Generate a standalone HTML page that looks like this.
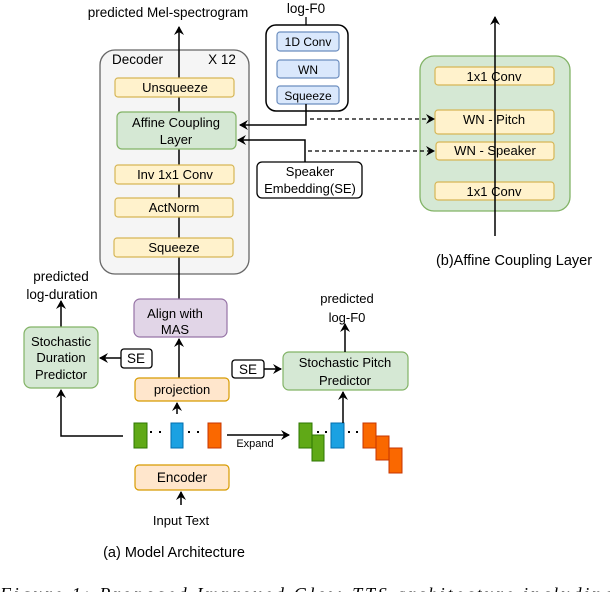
<!DOCTYPE html>
<html><head><meta charset="utf-8"><style>
html,body{margin:0;padding:0;background:#fff;width:610px;height:592px;overflow:hidden}
svg text{font-family:"Liberation Sans",sans-serif;fill:#000}
</style></head><body>
<svg width="610" height="592" viewBox="0 0 610 592" xmlns="http://www.w3.org/2000/svg">
<defs>
<marker id="a" markerWidth="10" markerHeight="10" refX="8" refY="5" orient="auto" markerUnits="userSpaceOnUse">
<path d="M0,0 L9,5 L0,10 L3,5 Z" fill="#000"/></marker>
</defs>
<g font-size="13" text-anchor="middle">
<rect x="100" y="50" width="149" height="224" rx="15" fill="#f5f5f5" stroke="#666" stroke-width="1.3"/>
<text x="112" y="64" text-anchor="start" font-size="13.5">Decoder</text>
<text x="222" y="64" font-size="13.5">X 12</text>
<line x1="179" y1="299" x2="179" y2="27" stroke="#000" stroke-width="1.5" marker-end="url(#a)"/>
<text x="168" y="17" font-size="13.5">predicted Mel-spectrogram</text>
<g fill="#fff2cc" stroke="#d6b656" stroke-width="1.2">
<rect x="115" y="78" width="119" height="19" rx="3"/>
<rect x="115" y="165" width="119" height="19" rx="3"/>
<rect x="115" y="198" width="118" height="19" rx="3"/>
<rect x="114" y="238" width="119" height="19" rx="3"/>
</g>
<rect x="117" y="112" width="119" height="37" rx="5" fill="#d5e8d4" stroke="#82b366" stroke-width="1.2"/>
<text x="175" y="92">Unsqueeze</text>
<text x="176" y="127">Affine Coupling</text>
<text x="176" y="144">Layer</text>
<text x="175" y="179">Inv 1x1 Conv</text>
<text x="174" y="212">ActNorm</text>
<text x="174" y="252">Squeeze</text>
<text x="306" y="13" font-size="13.5">log-F0</text>
<line x1="306" y1="17" x2="306" y2="25" stroke="#000" stroke-width="1.3"/>
<rect x="266" y="25" width="82" height="86" rx="10" fill="#fff" stroke="#000" stroke-width="1.5"/>
<g fill="#dae8fc" stroke="#6c8ebf" stroke-width="1.2">
<rect x="277" y="32" width="62" height="19" rx="3"/>
<rect x="277" y="60" width="62" height="18" rx="3"/>
<rect x="277" y="86" width="62" height="18" rx="3"/>
</g>
<text x="308" y="46" font-size="12">1D Conv</text>
<text x="308" y="74" font-size="12">WN</text>
<text x="308" y="100" font-size="12">Squeeze</text>
<polyline points="306,104 306,125 240,125" fill="none" stroke="#000" stroke-width="1.5" marker-end="url(#a)"/>
<polyline points="305,162 305,140 238,140" fill="none" stroke="#000" stroke-width="1.5" marker-end="url(#a)"/>
<rect x="257" y="162" width="105" height="36" rx="5" fill="#fff" stroke="#000" stroke-width="1.3"/>
<text x="310" y="176">Speaker</text>
<text x="310" y="193">Embedding(SE)</text>
<rect x="420" y="56" width="150" height="155" rx="14" fill="#d5e8d4" stroke="#82b366" stroke-width="1.3"/>
<g fill="#fff2cc" stroke="#d6b656" stroke-width="1.2">
<rect x="435" y="67" width="119" height="18" rx="3"/>
<rect x="435" y="110" width="119" height="24" rx="3"/>
<rect x="436" y="142" width="118" height="18" rx="3"/>
<rect x="435" y="182" width="119" height="18" rx="3"/>
</g>
<text x="494" y="81">1x1 Conv</text>
<text x="494" y="124">WN - Pitch</text>
<text x="495" y="155">WN - Speaker</text>
<text x="494" y="196">1x1 Conv</text>
<line x1="495" y1="236" x2="495" y2="17" stroke="#000" stroke-width="1.5" marker-end="url(#a)"/>
<line x1="310" y1="119" x2="434" y2="119" stroke="#000" stroke-width="1.3" stroke-dasharray="4,3" marker-end="url(#a)"/>
<line x1="308" y1="151" x2="434" y2="151" stroke="#000" stroke-width="1.3" stroke-dasharray="4,3" marker-end="url(#a)"/>
<text x="514" y="265" font-size="14.5">(b)Affine Coupling Layer</text>
<text x="61" y="281" font-size="13.5">predicted</text>
<text x="62" y="299" font-size="13.5">log-duration</text>
<line x1="61" y1="327" x2="61" y2="301" stroke="#000" stroke-width="1.5" marker-end="url(#a)"/>
<rect x="24" y="327" width="74" height="61" rx="7" fill="#d5e8d4" stroke="#82b366" stroke-width="1.2"/>
<text x="61" y="346">Stochastic</text>
<text x="61" y="362">Duration</text>
<text x="61" y="379">Predictor</text>
<rect x="121" y="349" width="31" height="19" rx="3" fill="#fff" stroke="#000" stroke-width="1.3"/>
<text x="136" y="363" font-size="13.5">SE</text>
<line x1="121" y1="358" x2="100" y2="358" stroke="#000" stroke-width="1.5" marker-end="url(#a)"/>
<rect x="134" y="299" width="93" height="38" rx="6" fill="#e1d5e7" stroke="#9673a6" stroke-width="1.2"/>
<text x="175" y="318">Align with</text>
<text x="175" y="334">MAS</text>
<line x1="179" y1="378" x2="179" y2="339" stroke="#000" stroke-width="1.5" marker-end="url(#a)"/>
<rect x="135" y="378" width="94" height="23" rx="4" fill="#ffe6cc" stroke="#d79b00" stroke-width="1.2"/>
<text x="182" y="394">projection</text>
<line x1="177" y1="414" x2="177" y2="403" stroke="#000" stroke-width="1.5" marker-end="url(#a)"/>
<polyline points="123,436 61,436 61,390" fill="none" stroke="#000" stroke-width="1.5" marker-end="url(#a)"/>
<rect x="134" y="423" width="13" height="25" fill="#60a917" stroke="#2d7600"/>
<rect x="171" y="423" width="12" height="25" fill="#1ba1e2" stroke="#006eaf"/>
<rect x="208" y="423" width="13" height="25" fill="#fa6800" stroke="#c73500"/>
<line x1="150" y1="432" x2="168" y2="432" stroke="#000" stroke-width="2" stroke-dasharray="2,7"/>
<line x1="188" y1="432" x2="205" y2="432" stroke="#000" stroke-width="2" stroke-dasharray="2,7"/>
<line x1="227" y1="435" x2="289" y2="435" stroke="#000" stroke-width="1.5" marker-end="url(#a)"/>
<text x="255" y="447" font-size="11">Expand</text>
<rect x="299" y="423" width="13" height="25" fill="#60a917" stroke="#2d7600"/>
<rect x="312" y="435" width="12" height="26" fill="#60a917" stroke="#2d7600"/>
<rect x="331" y="423" width="13" height="25" fill="#1ba1e2" stroke="#006eaf"/>
<rect x="363" y="423" width="13" height="25" fill="#fa6800" stroke="#c73500"/>
<rect x="376" y="436" width="13" height="24" fill="#fa6800" stroke="#c73500"/>
<rect x="389" y="448" width="13" height="25" fill="#fa6800" stroke="#c73500"/>
<line x1="317" y1="432" x2="330" y2="432" stroke="#000" stroke-width="2" stroke-dasharray="2,6"/>
<line x1="348" y1="432" x2="362" y2="432" stroke="#000" stroke-width="2" stroke-dasharray="2,6"/>
<line x1="343" y1="423" x2="343" y2="392" stroke="#000" stroke-width="1.5" marker-end="url(#a)"/>
<rect x="283" y="352" width="125" height="38" rx="6" fill="#d5e8d4" stroke="#82b366" stroke-width="1.2"/>
<text x="345" y="367">Stochastic Pitch</text>
<text x="345" y="385">Predictor</text>
<rect x="232" y="360" width="32" height="18" rx="3" fill="#fff" stroke="#000" stroke-width="1.3"/>
<text x="248" y="374" font-size="13.5">SE</text>
<line x1="264" y1="369" x2="281" y2="369" stroke="#000" stroke-width="1.5" marker-end="url(#a)"/>
<line x1="345" y1="352" x2="345" y2="324" stroke="#000" stroke-width="1.5" marker-end="url(#a)"/>
<text x="347" y="303">predicted</text>
<text x="347" y="322">log-F0</text>
<rect x="135" y="465" width="94" height="25" rx="4" fill="#ffe6cc" stroke="#d79b00" stroke-width="1.2"/>
<text x="182" y="482" font-size="13.5">Encoder</text>
<line x1="181" y1="505" x2="181" y2="492" stroke="#000" stroke-width="1.5" marker-end="url(#a)"/>
<text x="181" y="525">Input Text</text>
<text x="174" y="557" font-size="14.5">(a) Model Architecture</text>
</g>
<text x="0" y="600" font-size="18" font-style="italic" textLength="650" lengthAdjust="spacing" style="font-family:'Liberation Serif',serif">Figure 1: Proposed Improved Glow-TTS architecture including the</text>
</svg>
</body></html>
